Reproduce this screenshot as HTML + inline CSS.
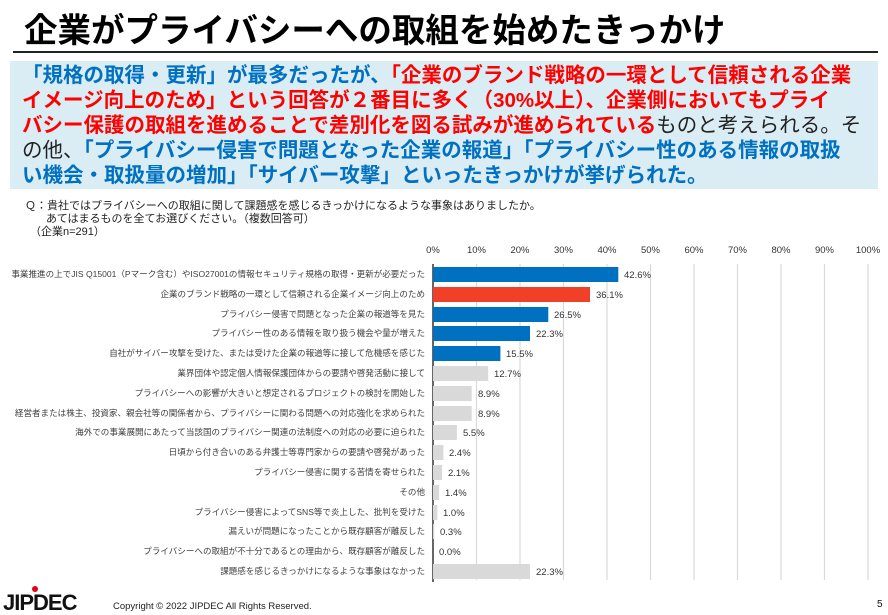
<!DOCTYPE html>
<html><head><meta charset="utf-8"><style>
body{margin:0;width:888px;height:615px;background:#fff;position:relative;overflow:hidden;font-family:"Liberation Sans","Noto Sans CJK JP",sans-serif;}
.title{position:absolute;left:24px;top:3px;font-size:33.5px;font-weight:bold;color:#000;white-space:nowrap;letter-spacing:0}
.rule{position:absolute;left:13px;top:51px;width:865px;height:2px;background:#222}
.box{position:absolute;left:10px;top:61px;width:868px;height:128px;background:#daedf4}
.box div{position:absolute;left:12px;white-space:nowrap;font-size:20.5px;font-weight:bold;line-height:25px;letter-spacing:0}
.b{color:#0070c0}.r{color:#ff0000}.k{color:#222;font-weight:normal}
.q{position:absolute;left:25px;font-size:11px;color:#222;white-space:nowrap}
</style></head><body>
<div class="title">企業がプライバシーへの取組を始めたきっかけ</div>
<div class="rule"></div>
<div class="box">
<div style="top:2px"><span class="b">「規格の取得・更新」が最多だったが、</span><span class="r">「企業のブランド戦略の一環として信頼される企業</span></div>
<div style="top:27px"><span class="r">イメージ向上のため」という回答が２番目に多く（30%以上）、企業側においてもプライ</span></div>
<div style="top:52px"><span class="r">バシー保護の取組を進めることで差別化を図る試みが進められている</span><span class="k">ものと考えられる。そ</span></div>
<div style="top:77px"><span class="k">の他、</span><span class="b">「プライバシー侵害で問題となった企業の報道」「プライバシー性のある情報の取扱</span></div>
<div style="top:102px"><span class="b">い機会・取扱量の増加」「サイバー攻撃」といったきっかけが挙げられた。</span></div>
</div>
<div class="q" style="top:197px">Ｑ：貴社ではプライバシーへの取組に関して課題感を感じるきっかけになるような事象はありましたか。</div>
<div class="q" style="top:210px;left:46px">あてはまるものを全てお選びください。（複数回答可）</div>
<div class="q" style="top:223px;left:30px">（企業n=291）</div>
<svg width="888" height="615" style="position:absolute;left:0;top:0" font-family="Liberation Sans, Noto Sans CJK JP, sans-serif">
<g stroke="#d9d9d9" stroke-width="1.2">
<line x1="476.5" y1="264" x2="476.5" y2="580"/><line x1="520" y1="264" x2="520" y2="580"/><line x1="563.5" y1="264" x2="563.5" y2="580"/><line x1="607" y1="264" x2="607" y2="580"/><line x1="650.5" y1="264" x2="650.5" y2="580"/><line x1="694" y1="264" x2="694" y2="580"/><line x1="737.5" y1="264" x2="737.5" y2="580"/><line x1="781" y1="264" x2="781" y2="580"/><line x1="824.5" y1="264" x2="824.5" y2="580"/><line x1="868" y1="264" x2="868" y2="580"/>
</g>
<g font-size="9.5" fill="#333" text-anchor="middle">
<text x="433" y="253">0%</text><text x="476.5" y="253">10%</text><text x="520" y="253">20%</text><text x="563.5" y="253">30%</text><text x="607" y="253">40%</text><text x="650.5" y="253">50%</text><text x="694" y="253">60%</text><text x="737.5" y="253">70%</text><text x="781" y="253">80%</text><text x="824.5" y="253">90%</text><text x="868" y="253">100%</text>
</g>
<line x1="433" y1="264" x2="433" y2="582" stroke="#000" stroke-width="1.2"/>
<g font-size="8.55" fill="#404040" text-anchor="end">
<text x="425" y="277">事業推進の上でJIS Q15001（Pマーク含む）やISO27001の情報セキュリティ規格の取得・更新が必要だった</text>
<text x="425" y="297">企業のブランド戦略の一環として信頼される企業イメージ向上のため</text>
<text x="425" y="317">プライバシー侵害で問題となった企業の報道等を見た</text>
<text x="425" y="336">プライバシー性のある情報を取り扱う機会や量が増えた</text>
<text x="425" y="356">自社がサイバー攻撃を受けた、または受けた企業の報道等に接して危機感を感じた</text>
<text x="425" y="376">業界団体や認定個人情報保護団体からの要請や啓発活動に接して</text>
<text x="425" y="396">プライバシーへの影響が大きいと想定されるプロジェクトの検討を開始した</text>
<text x="425" y="416">経営者または株主、投資家、親会社等の関係者から、プライバシーに関わる問題への対応強化を求められた</text>
<text x="425" y="435">海外での事業展開にあたって当該国のプライバシー関連の法制度への対応の必要に迫られた</text>
<text x="425" y="455">日頃から付き合いのある弁護士等専門家からの要請や啓発があった</text>
<text x="425" y="475">プライバシー侵害に関する苦情を寄せられた</text>
<text x="425" y="495">その他</text>
<text x="425" y="515">プライバシー侵害によってSNS等で炎上した、批判を受けた</text>
<text x="425" y="534">漏えいが問題になったことから既存顧客が離反した</text>
<text x="425" y="554">プライバシーへの取組が不十分であるとの理由から、既存顧客が離反した</text>
<text x="425" y="574">課題感を感じるきっかけになるような事象はなかった</text>
</g>
<g>
<rect x="433" y="267" width="185.3" height="15" fill="#0070c0"/>
<rect x="433" y="287" width="157" height="15" fill="#f04028"/>
<rect x="433" y="307" width="115.3" height="15" fill="#0070c0"/>
<rect x="433" y="326" width="97" height="15" fill="#0070c0"/>
<rect x="433" y="346" width="67.4" height="15" fill="#0070c0"/>
<rect x="433" y="366" width="55.2" height="15" fill="#d9d9d9"/>
<rect x="433" y="386" width="38.7" height="15" fill="#d9d9d9"/>
<rect x="433" y="406" width="38.7" height="15" fill="#d9d9d9"/>
<rect x="433" y="425" width="23.9" height="15" fill="#d9d9d9"/>
<rect x="433" y="445" width="10.4" height="15" fill="#d9d9d9"/>
<rect x="433" y="465" width="9.1" height="15" fill="#d9d9d9"/>
<rect x="433" y="485" width="6.1" height="15" fill="#d9d9d9"/>
<rect x="433" y="505" width="4.4" height="15" fill="#d9d9d9"/>
<rect x="433" y="524" width="1.3" height="15" fill="#d9d9d9"/>
<rect x="433" y="564" width="97" height="15" fill="#d9d9d9"/>
</g>
<g font-size="9.5" fill="#333">
<text x="624" y="278">42.6%</text><text x="596" y="298">36.1%</text><text x="554" y="318">26.5%</text><text x="536" y="337">22.3%</text><text x="506" y="357">15.5%</text><text x="494" y="377">12.7%</text><text x="478" y="397">8.9%</text><text x="478" y="417">8.9%</text><text x="463" y="436">5.5%</text><text x="449" y="456">2.4%</text><text x="448" y="476">2.1%</text><text x="445" y="496">1.4%</text><text x="443" y="516">1.0%</text><text x="440" y="535">0.3%</text><text x="439" y="555">0.0%</text><text x="536" y="575">22.3%</text>
</g>
<g>
<circle cx="35" cy="589" r="3" fill="#e60012"/>
<text x="3" y="610" font-size="22" font-weight="bold" fill="#111" letter-spacing="-1" font-family="Liberation Sans, sans-serif">JIPDEC</text>
<text x="113" y="609" font-size="9.5" fill="#222">Copyright © 2022 JIPDEC All Rights Reserved.</text>
<text x="877" y="607" font-size="10" fill="#111">5</text>
</g>
</svg>
</body></html>
